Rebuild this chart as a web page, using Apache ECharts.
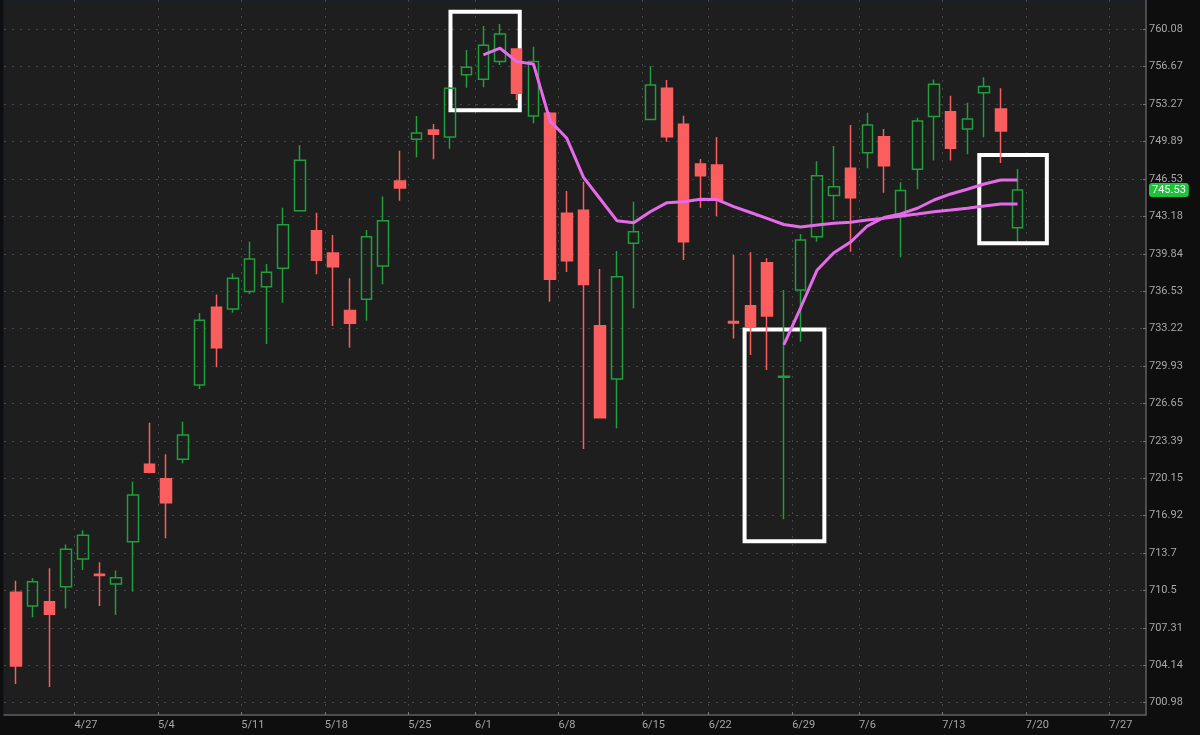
<!DOCTYPE html>
<html><head><meta charset="utf-8">
<script src="https://cdn.jsdelivr.net/npm/echarts@6/dist/echarts.min.js"></script>
<style>html,body{margin:0;padding:0;background:#0e0e0e}#c{width:1200px;height:735px}</style>
</head><body><div id="c"></div>
<script>
const YEAR = 2026;
const dates = ['4/21','4/22','4/23','4/24',
 '4/27','4/28','4/29','4/30','5/1',
 '5/4','5/5','5/6','5/7','5/8',
 '5/11','5/12','5/13','5/14','5/15',
 '5/18','5/19','5/20','5/21','5/22',
 '5/26','5/27','5/28','5/29',
 '6/1','6/2','6/3','6/4','6/5',
 '6/8','6/9','6/10','6/11','6/12',
 '6/15','6/16','6/17','6/18',
 '6/22','6/23','6/24','6/25','6/26',
 '6/29','6/30','7/1','7/2',
 '7/6','7/7','7/8','7/9','7/10',
 '7/13','7/14','7/15','7/16','7/17'];
const futureDates = ['7/20','7/21','7/22','7/23','7/24','7/27','7/28','7/29'];

const open  = [710.33,709.16,709.53,710.81,713.18,711.88,711.04,714.66,721.35,720.10,
               721.78,728.25,735.10,734.95,736.48,736.92,738.55,743.68,741.89,739.90,
               734.80,735.80,738.75,746.34,750.09,750.93,750.30,755.94,755.52,757.13,
               758.28,752.19,752.44,743.45,743.72,733.47,728.78,740.77,751.89,754.71,
               751.44,747.87,747.78,733.85,735.24,739.04,728.93,736.63,741.36,745.03,
               747.48,748.88,750.33,743.14,747.39,752.14,752.58,751.02,754.31,752.83,
               742.16];
const close = [704.06,711.24,708.45,714.01,715.22,711.76,711.58,718.69,720.65,718.03,
               723.89,733.95,731.53,737.66,739.37,738.19,742.43,748.20,739.26,738.69,
               733.68,741.36,742.79,745.71,750.66,750.54,754.71,756.62,758.62,759.65,
               754.25,757.13,737.57,739.22,737.10,725.40,737.80,741.80,755.01,750.33,
               740.91,746.82,744.63,733.70,733.35,734.33,729.03,741.06,746.82,745.83,
               744.85,751.38,747.72,745.48,751.74,755.08,749.28,751.92,754.86,750.84,
               745.53];
const low   = [702.55,708.20,702.29,708.96,712.24,709.16,708.39,710.38,720.57,714.96,
               721.43,727.90,729.81,734.62,736.28,731.86,735.50,743.61,738.02,733.44,
               731.53,733.91,737.13,744.56,748.47,748.29,749.24,754.76,754.80,756.83,
               753.64,751.53,735.58,738.23,722.67,725.33,724.48,735.00,751.87,749.87,
               739.28,743.95,743.21,732.35,730.89,729.57,716.59,732.06,740.91,742.85,
               740.02,747.48,745.29,739.52,745.59,748.19,748.19,748.74,750.27,747.95,
               740.98];
const high  = [711.32,711.53,712.38,714.42,715.65,712.90,712.19,719.84,724.96,722.21,
               725.05,734.59,736.22,738.09,740.91,738.92,743.95,749.58,743.50,741.51,
               737.66,741.96,744.94,749.06,752.19,751.47,754.83,758.19,760.38,760.56,
               758.33,758.49,752.56,745.45,746.28,738.49,740.08,744.49,756.73,755.45,
               752.22,748.31,750.29,739.72,739.97,739.43,736.63,741.59,748.12,749.48,
               751.38,752.49,751.02,746.23,752.04,755.51,754.03,753.40,755.70,754.71,
               747.42];

// anchored lines (first one starts at 6/1, second at 6/26)
const lineAStart = 28;
const lineA = [757.74,758.35,757.13,756.92,751.74,750.18,746.66,744.73,742.79,742.61,
               743.59,744.40,744.49,744.70,744.68,744.04,743.52,743.00,742.45,742.22,
               742.40,742.55,742.64,742.85,743.00,743.21,743.39,743.59,743.74,743.90,
               744.10,744.28,744.28];
const lineBStart = 46;
const lineB = [731.77,735.03,738.40,739.93,740.88,742.31,743.07,743.39,743.90,744.64,
               745.18,745.60,746.07,746.43,746.43];

// annotation boxes: [from index, to index, low price, high price]
const boxes = [[26.03,30.18,752.71,761.69],[43.65,48.43,714.71,733.13],[57.71,61.76,740.77,748.68]];

const yTickLabels = ['700.98','704.14','707.31','710.5','713.7','716.92','720.15','723.39','726.65',
                     '729.93','733.22','736.53','739.84','743.18','746.53','749.89','753.27','756.67','760.08'];
const xTickLabels = ['4/27','5/4','5/11','5/18','5/25','6/1','6/8','6/15','6/22','6/29','7/6','7/13','7/20','7/27'];

const yTicks = yTickLabels.map(Number);
const allDates = dates.concat(futureDates);
const toDate = s => { const [m,d] = s.split('/').map(Number); return new Date(YEAR, m-1, d); };
const mondayOf = s => { const dt = toDate(s); dt.setDate(dt.getDate() - ((dt.getDay()+6)%7)); return (dt.getMonth()+1)+'/'+dt.getDate(); };
const xTickPos = [];
const xLabelMap = {};
xTickLabels.forEach(lbl => {
  const i = allDates.findIndex(d => mondayOf(d) === lbl);
  if (i > 0) { const p = i - 0.5; xTickPos.push(p); xLabelMap[p.toFixed(1)] = lbl; }
});

const candleData = dates.map((d,i) => [i, open[i], close[i], low[i], high[i]]);
const lineAData = lineA.map((v,k) => [lineAStart + k, v]);
const lineBData = lineB.map((v,k) => [lineBStart + k, v]);
const lastClose = close[close.length-1];

const labelStyle = {color:'#a6a6a6', fontSize:11, fontFamily:'Roboto'};
const gridLine = {show:true, lineStyle:{color:'#474747', width:1, type:[2,6]}};

const chart = echarts.init(document.getElementById('c'), null, {renderer:'canvas'});
chart.setOption({
  backgroundColor:'#0e0e0e',
  animation:false,
  grid:{left:4, right:54, top:0, bottom:20, show:true, backgroundColor:'#1e1e1e', borderColor:'#16232d', borderWidth:1},
  xAxis:{
    type:'value', min:-0.72, max:67.7,
    axisLine:{show:true, onZero:false, lineStyle:{color:'#5c5c5c', width:1.5}},
    axisTick:{show:true, inside:true, length:3, customValues:xTickPos, lineStyle:{color:'#777'}},
    axisLabel:Object.assign({customValues:xTickPos, align:'left', margin:5,
      formatter:v => xLabelMap[Number(v).toFixed(1)] || ''}, labelStyle),
    splitLine:Object.assign({customValues:xTickPos}, gridLine)
  },
  yAxis:{
    type:'log', position:'right', min:699.93, max:762.76,
    axisLine:{show:true, onZero:false, lineStyle:{color:'#5c5c5c', width:1.5}},
    axisTick:{show:true, inside:true, length:3, customValues:yTicks, lineStyle:{color:'#777'}},
    axisLabel:Object.assign({customValues:yTicks, margin:3,
      formatter:v => { let best=0; yTicks.forEach((t,k)=>{ if (Math.abs(t-v) < Math.abs(yTicks[best]-v)) best=k; }); return yTickLabels[best]; }}, labelStyle),
    splitLine:Object.assign({customValues:yTicks}, gridLine)
  },
  series:[
    {
      type:'candlestick', data:candleData, encode:{x:0, y:[1,2,3,4]},
      barWidth:11,
      itemStyle:{color:'rgba(0,0,0,0)', color0:'#fb5e5e', borderColor:'#1f9e3b', borderColor0:'#fb5e5e', borderWidth:1.5},
      markArea:{silent:true, itemStyle:{color:'rgba(0,0,0,0)', borderColor:'#ffffff', borderWidth:4},
        data: boxes.map(b => [{xAxis:b[0], yAxis:b[3]}, {xAxis:b[1], yAxis:b[2]}])}
    },
    {type:'line', data:lineAData, showSymbol:false, symbol:'none', z:5,
     lineStyle:{color:'#e56bea', width:3}, itemStyle:{color:'#e56bea'}},
    {type:'line', data:lineBData, showSymbol:false, symbol:'none', z:5,
     lineStyle:{color:'#e56bea', width:3}, itemStyle:{color:'#e56bea'},
     markLine:{silent:true, symbol:'none', animation:false,
        lineStyle:{color:'rgba(0,0,0,0)', width:0},
        data:[{yAxis:lastClose}],
        label:{show:true, position:'end', distance:3, formatter:lastClose.toFixed(2), color:'#ffffff',
          backgroundColor:'#1fc23a', borderRadius:3, padding:[2,3,1,3], fontSize:11, fontFamily:'Roboto'}}}
  ]
});
</script></body></html>
